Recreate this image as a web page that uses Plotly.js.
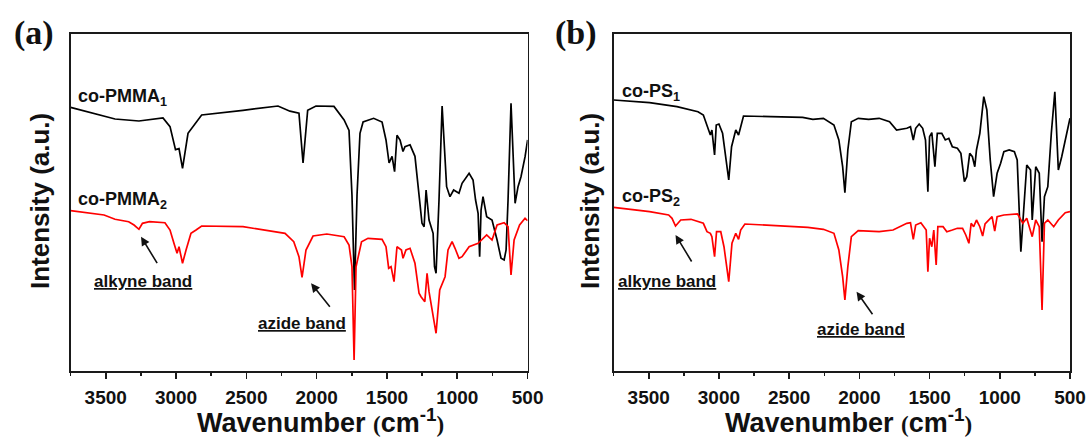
<!DOCTYPE html>
<html>
<head>
<meta charset="utf-8">
<script src="https://cdn.plot.ly/plotly-3.0.1.min.js"></script>
<style>html,body{margin:0;padding:0;background:#fff;}</style>
</head>
<body>
<div id="chart" style="width:1091px;height:439px;"></div>
<script>
// ---- Data (wavenumber in cm^-1, intensity in a.u.) ----
const pmma1_x = [3750,3434,3264,3093,3043,3004,2979,2954,2915,2858,2818,2524,2275,2190,2126,2097,2064,2005,1877,1805,1770,1749,1731,1713,1692,1670,1595,1535,1507,1485,1464,1446,1429,1407,1386,1372,1336,1301,1261,1251,1236,1222,1201,1172,1162,1151,1130,1108,1076,1052,1026,988,966,916,888,870,852,841,831,817,791,753,717,689,667,653,639,618,589,568,547,518,500];
const pmma1_y = [263.6,252,250,253,244.4,221.4,222.4,202.7,237.7,249.2,256,260.7,265,259.8,257.8,208,260.7,265,264.6,251,240.6,176,81,176,237.7,249,252.7,249,231,208,214.7,199.3,235.8,231,219.5,224.3,226.2,214.7,157.7,147.7,144.3,181,151,137.7,104.3,97.7,171,265,184.3,174.3,181,177.7,187.7,197.7,191,171,157.7,114.3,161,174.3,154.3,151,131,112.7,111,121,171,267.7,167.7,184.3,194.3,214.3,231];

const pmma2_x = [3750,3512,3434,3337,3299,3264,3239,3189,3079,3043,3015,2993,2979,2954,2929,2894,2858,2818,2524,2349,2225,2163,2126,2104,2076,2026,1928,1805,1770,1749,1734,1720,1681,1635,1535,1507,1488,1471,1450,1429,1397,1386,1365,1336,1301,1272,1258,1231,1215,1201,1175,1151,1125,1087,1066,1037,1016,988,966,916,852,791,753,717,667,639,618,596,557,518,500];
const pmma2_y = [160.3,156,151.7,149.3,146,141.7,147.7,149.3,148.3,141,127.7,117.7,124.3,107.7,121,137.7,141,145,144.3,140,137.7,129.3,114.3,93.7,121,135,137,134.3,126,104.3,11,104.3,129.3,132.7,131.7,124.3,102.7,104.3,89.3,124.3,121,112.7,121,122.7,107.7,77.7,74.3,69.3,97.7,79.3,59.3,37.7,81,94.3,121,129.3,122.7,112.7,114.3,124.3,127.7,136,131,146,148.3,144.3,96,131,146,152.7,150.3];

const ps1_x = [3750,3494,3299,3149,3111,3085,3061,3050,3031,3019,3000,2974,2950,2930,2910,2880,2860,2845,2825,2630,2404,2331,2256,2181,2146,2119,2103,2082,2057,2008,1934,1859,1785,1735,1662,1636,1616,1599,1574,1549,1529,1512,1500,1484,1462,1445,1413,1388,1363,1338,1302,1277,1252,1235,1214,1195,1178,1166,1142,1114,1092,1068,1044,1019,994,971,933,896,876,850,808,781,769,744,719,699,682,658,633,608,583,559,534,500];
const ps1_y = [271,268.3,264.3,259.3,256,244.3,236,241,216,246,247,237.7,214.3,191,224.3,241,236,244.3,255,254.3,253.7,251.7,252.7,246,231,204.3,178.3,221,249.3,252.7,251.7,252.7,249.3,241,242.7,244.3,231,242.7,247,242.7,231,179.3,234.3,238.3,204.3,237.7,237.7,231,232.7,224.3,222.7,217.7,189.3,194.3,217.7,214.3,204.3,221,237.7,274.3,261,211,174.3,197.7,207.7,219.3,221,219.3,211,119.3,206,201,151,204.3,197.7,129.3,174.3,184.3,237.7,279.3,201,214.3,231,252.7];

const ps2_x = [3750,3494,3358,3334,3309,3272,3199,3111,3085,3061,3050,3031,3017,2987,2964,2930,2907,2880,2860,2845,2815,2504,2367,2256,2181,2146,2119,2103,2082,2057,2008,1859,1760,1662,1636,1616,1599,1562,1524,1512,1500,1484,1470,1453,1441,1404,1377,1338,1302,1265,1242,1220,1204,1186,1166,1142,1122,1105,1080,1055,1036,1019,971,873,836,808,769,744,719,699,682,658,616,583,534,500];
const ps2_y = [163.7,159.3,156,152.7,145,151,151.7,147.7,139.3,137.7,134.3,114.3,139.3,139.3,124.3,89.3,127.7,137.7,131.7,141,147,144.3,143.7,141.7,137.7,121,94.3,71,104.3,134.3,140.3,139.3,141,147.7,148.3,131.7,146,148.3,141,99.3,132.7,124.3,141,106,144.3,144.3,139.3,141,142.7,142.7,136,127.7,147.7,144.3,151,144.3,135,147,151,154.3,140,154.3,156,157,147.7,152.7,134.3,151,144.3,61,147.7,151,144.3,151,158.3,159.3];

const xTicks = [3500,3000,2500,2000,1500,1000,500];
const panelLabels = ['(a)','(b)'];
const seriesLabels = ['co-PMMA<sub>1</sub>','co-PMMA<sub>2</sub>','co-PS<sub>1</sub>','co-PS<sub>2</sub>'];
const bandLabels = ['alkyne band','azide band'];
const xTitle = 'Wavenumber <span style="font-family:\'Liberation Serif\';font-size:23px">(</span>cm<sup>-1</sup><span style="font-family:\'Liberation Serif\';font-size:23px">)</span>';
const yTitle = 'Intensity (a.u.)';

// ---- Styling / layout ----
const W = 1091, H = 439;
const px = v => v / W;
const py = v => 1 - v / H;
const lineCol = '#1a1a1a';
const FONT = 'Liberation Sans, Arial, sans-serif';

const traces = [
  {x: pmma1_x, y: pmma1_y, xaxis:'x', yaxis:'y', mode:'lines', line:{color:'#000000', width:1.7}},
  {x: pmma2_x, y: pmma2_y, xaxis:'x', yaxis:'y', mode:'lines', line:{color:'#ff0000', width:1.7}},
  {x: ps1_x, y: ps1_y, xaxis:'x2', yaxis:'y2', mode:'lines', line:{color:'#000000', width:1.7}},
  {x: ps2_x, y: ps2_y, xaxis:'x2', yaxis:'y2', mode:'lines', line:{color:'#ff0000', width:1.7}}
];

function xAxis(domain, anchor) {
  return {
    domain: domain, anchor: anchor, range: [3750, 500], autorange: false,
    tickmode: 'array', tickvals: xTicks, ticktext: xTicks.map(String),
    ticks: 'outside', ticklen: 6, tickwidth: 1.6, tickcolor: lineCol,
    minor: {ticks: 'outside', ticklen: 3, tickwidth: 1.5, tickcolor: lineCol, dtick: 250, tick0: 0, showgrid: false},
    showline: true, linewidth: 1.8, linecolor: lineCol, mirror: true,
    showgrid: false, zeroline: false, ticklabelstandoff: 2,
    tickfont: {family: FONT, size: 19, color: '#111', weight: 'bold'}
  };
}
function yAxis(domain, anchor) {
  return {
    domain: domain, anchor: anchor, range: [0, 337], autorange: false,
    showticklabels: false, ticks: '', showline: true, linewidth: 1.8, linecolor: lineCol,
    mirror: true, showgrid: false, zeroline: false
  };
}

const yDom = [py(371), py(34)];
const layout = {
  width: W, height: H, margin: {l:0, r:0, t:0, b:0},
  paper_bgcolor: '#ffffff', plot_bgcolor: 'rgba(0,0,0,0)', showlegend: false,
  font: {family: FONT, color: '#111'},
  xaxis: xAxis([px(70.6), px(527.6)], 'y'),
  yaxis: yAxis(yDom, 'x'),
  xaxis2: xAxis([px(613.6), px(1070)], 'y2'),
  yaxis2: yAxis(yDom, 'x2'),
  annotations: []
};

const A = layout.annotations;
function txt(text, x, y, size, opts) {
  A.push(Object.assign({text: text, xref:'paper', yref:'paper', x: px(x), y: py(y),
    xanchor:'center', yanchor:'middle', showarrow:false,
    font:{family: FONT, size: size, color:'#111', weight:'bold'}}, opts || {}));
}
const SERIF = 'Liberation Serif, Times New Roman, serif';
// panel letters
txt(panelLabels[0], 34, 33, 34, {font:{family: SERIF, size:34, color:'#111', weight:'bold'}});
txt(panelLabels[1], 576, 33, 34, {font:{family: SERIF, size:34, color:'#111', weight:'bold'}});
// series labels
txt(seriesLabels[0], 76, 97, 18, {xanchor:'left'});
txt(seriesLabels[1], 76, 200, 18, {xanchor:'left'});
txt(seriesLabels[2], 620, 92, 18, {xanchor:'left'});
txt(seriesLabels[3], 620, 197, 18, {xanchor:'left'});
// band labels
txt('<u>' + bandLabels[0] + '</u>', 143, 281, 17);
txt('<u>' + bandLabels[1] + '</u>', 302, 323, 17);
txt('<u>' + bandLabels[0] + '</u>', 667, 281, 17);
txt('<u>' + bandLabels[1] + '</u>', 861, 329, 17);
// axis titles
txt(xTitle, 320, 421, 27);
txt(xTitle, 848, 421, 27);
txt(yTitle, 40, 201, 26, {textangle: -90});
txt(yTitle, 590, 201, 26, {textangle: -90});
// arrows (head at band position in data coords)
function arrow(xr, yr, x, y, ax, ay) {
  A.push({xref: xr, yref: yr, x: x, y: y, ax: ax, ay: ay, axref:'pixel', ayref:'pixel',
    text:'', showarrow:true, arrowhead:2, arrowsize:1.1, arrowwidth:1.6, arrowcolor:'#111', standoff:0});
}
arrow('x','y', 3249, 134.3, 17, 28);
arrow('x','y', 2040, 87.7, 20, 25);
arrow('x2','y2', 3309, 136, 17, 28);
arrow('x2','y2', 2020, 79.3, 17, 24);

Plotly.newPlot('chart', traces, layout, {staticPlot: true, displayModeBar: false});
</script>
</body>
</html>
